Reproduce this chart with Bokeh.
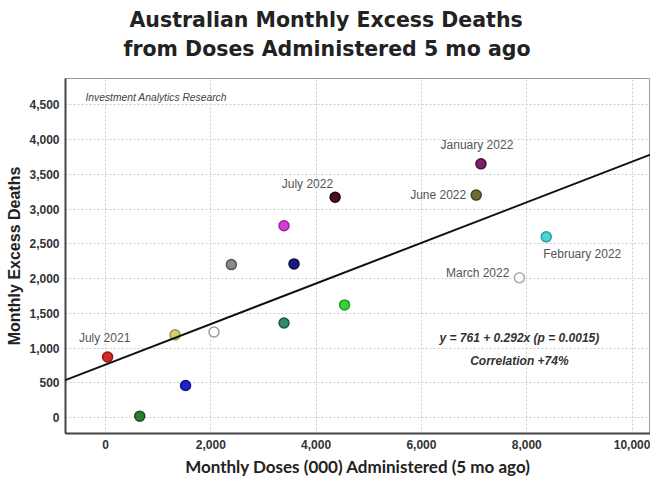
from bokeh.plotting import figure
from bokeh.models import Slope, FixedTicker, NumeralTickFormatter, Label, ColumnDataSource, Title
from bokeh.embed import file_html
from bokeh.resources import INLINE

# ---- data ----
title_lines = ["Australian Monthly Excess Deaths", "from Doses Administered 5 mo ago"]
months = ["July 2021", "", "", "", "", "", "", "", "", "July 2022", "",
          "June 2022", "January 2022", "February 2022", "March 2022"]
doses = [40, 650, 1320, 1520, 2060, 2390, 3390, 3580, 3390, 4360, 4540,
         7040, 7130, 8370, 7860]
deaths = [870, 20, 1190, 460, 1230, 2200, 2760, 2210, 1360, 3170, 1620,
          3200, 3650, 2600, 2010]
intercept = 761
slope = 0.292
p_value = 0.0015
correlation = 74
x_ticks = [0, 2000, 4000, 6000, 8000, 10000]
y_ticks = [0, 500, 1000, 1500, 2000, 2500, 3000, 3500, 4000, 4500]

# ---- styles ----
fills = ["#d62a2a", "#2e7d32", "#d2d26c", "#2020d0", "#ffffff", "#8a8a8a",
         "#d040d0", "#1a1a7a", "#2e8b6e", "#4a0f1f", "#3ccf3c", "#6e6e34",
         "#7a1f6a", "#4fd4d4", "#ffffff"]
lines = ["#8b1a1a", "#1b4d1e", "#9a9a40", "#10108a", "#9a9a9a", "#555555",
         "#a020a0", "#0a0a40", "#1a5a44", "#200008", "#22992a", "#444420",
         "#4a0f40", "#2aa0a0", "#aaaaaa"]
# label placement: (x_offset, y_offset, align, baseline)
label_style = {
    "July 2021": (-3, 12, "center", "bottom"),
    "July 2022": (-2, 6, "right", "bottom"),
    "June 2022": (-10, 0, "right", "middle"),
    "January 2022": (-4, 12, "center", "bottom"),
    "February 2022": (-3, -10, "left", "top"),
    "March 2022": (-10, 5, "right", "middle"),
}

p = figure(width=650, height=479, x_range=(-760, 10350), y_range=(-230, 4878),
           output_backend="svg", toolbar_location=None,
           min_border_left=65, min_border_right=0, min_border_top=78,
           min_border_bottom=46)

# title: p.title is outermost; items added "above" stack outward from the plot
p.add_layout(Title(text=" ", text_font_size="1px", standoff=12,
                   text_color="white"), "above")
sub = Title(text=title_lines[1])
p.add_layout(sub, "above")
p.title.text = title_lines[0]
for t, off, so in ((p.title, 64, 0), (sub, 58, 6)):
    t.align = "left"
    t.offset = off
    t.standoff = so
    t.text_font = "DejaVu Sans"
    t.text_font_size = "20.5px"
    t.text_font_style = "bold"
    t.text_color = "#222222"

p.outline_line_color = "#999999"
p.outline_line_width = 1
p.background_fill_color = "white"
p.border_fill_color = "white"

for ax in (p.xaxis[0], p.yaxis[0]):
    ax.axis_line_width = 2
    ax.axis_line_color = "#444444"
    ax.major_tick_line_color = None
    ax.minor_tick_line_color = None
    ax.major_tick_out = 0
    ax.major_tick_in = 0
    ax.formatter = NumeralTickFormatter(format="0,0")
    ax.major_label_text_font = "Liberation Sans"
    ax.major_label_text_font_style = "bold"
    ax.major_label_text_font_size = "12px"
    ax.major_label_text_color = "#333333"
    ax.major_label_standoff = 6
    ax.axis_label_text_font_style = "bold"
    ax.axis_label_text_color = "#222222"

p.xaxis.ticker = FixedTicker(ticks=x_ticks)
p.yaxis.ticker = FixedTicker(ticks=y_ticks)
p.xaxis.axis_label = "Monthly Doses (000) Administered (5 mo ago)"
p.xaxis.axis_label_text_font = "Lato"
p.xaxis.axis_label_text_font_size = "17px"
p.xaxis.axis_label_standoff = 4
p.yaxis.axis_label = "Monthly Excess Deaths"
p.yaxis.axis_label_text_font = "Liberation Sans"
p.yaxis.axis_label_text_font_size = "16px"
p.yaxis.axis_label_standoff = 3

for g in (p.xgrid[0], p.ygrid[0]):
    g.grid_line_color = "#cccccc"
    g.grid_line_dash = "2 2"
    g.grid_line_width = 1

p.add_layout(Slope(gradient=slope, y_intercept=intercept,
                   line_color="#111111", line_width=2))

src = ColumnDataSource(dict(x=doses, y=deaths, fill=fills, line=lines))
p.scatter("x", "y", source=src, size=10, fill_color="fill", line_color="line",
          line_width=1.5)

for i, m in enumerate(months):
    if not m:
        continue
    dx, dy, al, bl = label_style[m]
    p.add_layout(Label(x=doses[i], y=deaths[i], x_offset=dx, y_offset=dy,
                       text=m, text_align=al, text_baseline=bl,
                       text_font="Liberation Sans", text_font_size="12px",
                       text_color="#555555"))

p.add_layout(Label(x=-380, y=4604, text="Investment Analytics Research",
                   text_align="left", text_baseline="middle",
                   text_font="Liberation Sans", text_font_size="10.3px",
                   text_font_style="italic", text_color="#444444"))

p.add_layout(Label(x=7860, y=1137,
                   text=f"y = {intercept} + {slope}x (p = {p_value})",
                   text_align="center", text_baseline="middle",
                   text_font="Liberation Sans", text_font_size="12px",
                   text_font_style="bold italic", text_color="#333333"))
p.add_layout(Label(x=7860, y=820, text=f"Correlation +{correlation}%",
                   text_align="center", text_baseline="middle",
                   text_font="Liberation Sans", text_font_size="12px",
                   text_font_style="bold italic", text_color="#333333"))

open("out.html", "w").write(file_html(p, INLINE))
